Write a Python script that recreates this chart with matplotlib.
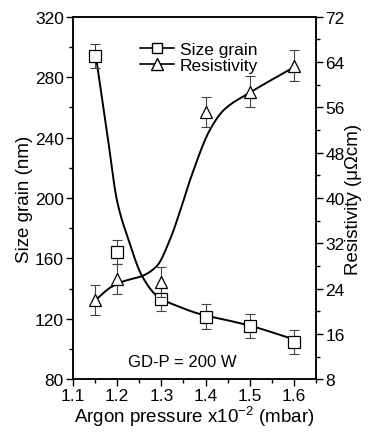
import numpy as np
import matplotlib
matplotlib.use("Agg")
import matplotlib.pyplot as plt
from matplotlib.ticker import MultipleLocator
from matplotlib.lines import Line2D

plt.rcParams['font.family'] = ['Liberation Sans', 'DejaVu Sans']

# Data points
pressure = [1.15, 1.2, 1.3, 1.4, 1.5, 1.6]
size_grain = [294, 164, 133, 121.5, 115.5, 104.7]
size_err = [8, 8, 8, 8, 8, 8]
resistivity = [22.0, 25.7, 25.2, 55.2, 58.8, 63.4]
res_err = [2.7, 2.7, 2.7, 2.7, 2.7, 2.7]

# Fitted curves
size_curve_x = [1.152, 1.177, 1.2, 1.225, 1.257, 1.291, 1.343, 1.389, 1.45, 1.5, 1.593]
size_curve_y = [294, 244, 198, 173, 148, 135, 127.7, 123, 119, 115.5, 107]
res_curve_x = [1.153, 1.185, 1.215, 1.256, 1.29, 1.32, 1.345, 1.366, 1.411, 1.442, 1.502, 1.593]
res_curve_y = [22.1, 24.2, 25.3, 26.2, 28.0, 32.75, 38.3, 43.4, 52.2, 55.6, 58.7, 62.8]


def pchip(x, y, xn):
    x = np.asarray(x, float); y = np.asarray(y, float)
    h = np.diff(x); d = np.diff(y) / h
    n = len(x)
    m = np.zeros(n)
    for k in range(1, n - 1):
        if d[k - 1] * d[k] > 0:
            w1 = 2 * h[k] + h[k - 1]; w2 = h[k] + 2 * h[k - 1]
            m[k] = (w1 + w2) / (w1 / d[k - 1] + w2 / d[k])
    m[0] = d[0]; m[-1] = d[-1]
    idx = np.clip(np.searchsorted(x, xn) - 1, 0, n - 2)
    t = (xn - x[idx]) / h[idx]
    h00 = 2 * t**3 - 3 * t**2 + 1; h10 = t**3 - 2 * t**2 + t
    h01 = -2 * t**3 + 3 * t**2; h11 = t**3 - t**2
    return h00 * y[idx] + h10 * h[idx] * m[idx] + h01 * y[idx + 1] + h11 * h[idx] * m[idx + 1]


fig = plt.figure(figsize=(3.68, 4.35), dpi=100)
ax = fig.add_axes([0.198, 0.126, 0.661, 0.833])
ax2 = ax.twinx()

xs = np.linspace(size_curve_x[0], size_curve_x[-1], 400)
ax.plot(xs, pchip(size_curve_x, size_curve_y, xs), color='black', lw=1.4, zorder=3)
xr = np.linspace(res_curve_x[0], res_curve_x[-1], 400)
ax2.plot(xr, pchip(res_curve_x, res_curve_y, xr), color='black', lw=1.4, zorder=3)

ax.errorbar(pressure, size_grain, yerr=size_err, fmt='none', ecolor='#444444',
            elinewidth=0.8, capsize=3.5, capthick=0.8, zorder=4)
ax.plot(pressure, size_grain, ls='none', marker='s', ms=8, mfc='white', mec='black', mew=0.9, zorder=5)
ax2.errorbar(pressure, resistivity, yerr=res_err, fmt='none', ecolor='#444444',
             elinewidth=0.8, capsize=3.5, capthick=0.8, zorder=4)
ax2.plot(pressure, resistivity, ls='none', marker='^', ms=9, mfc='white', mec='black', mew=0.9, zorder=5)

ax.set_xlim(1.1, 1.65)
ax.set_ylim(80, 320)
ax2.set_ylim(8, 72)
ax.xaxis.set_minor_locator(MultipleLocator(0.05))
ax.yaxis.set_major_locator(MultipleLocator(40))
ax.yaxis.set_minor_locator(MultipleLocator(20))
ax2.yaxis.set_major_locator(MultipleLocator(8))
ax2.yaxis.set_minor_locator(MultipleLocator(4))
ax.set_xticks([1.1, 1.2, 1.3, 1.4, 1.5, 1.6])
ax.set_xticklabels(['1.1', '1.2', '1.3', '1.4', '1.5', '1.6'])

for a in (ax, ax2):
    a.tick_params(which='major', direction='out', length=5, width=1, labelsize=12.5, pad=1.5)
    a.tick_params(which='minor', direction='out', length=3, width=1)
    for s in a.spines.values():
        s.set_linewidth(1.1)

ax.set_xlabel('Argon pressure x10$^{\\mathregular{-2}}$ (mbar)', fontsize=13.5, labelpad=0)
ax.set_ylabel('Size grain (nm)', fontsize=13.5, labelpad=1)
ax2.set_ylabel('Resistivity (μΩcm)', fontsize=13.5, labelpad=0)

ax.text(1.347, 92, 'GD-P = 200 W', fontsize=12, ha='center', va='center')

h1 = Line2D([], [], color='black', lw=1.2, marker='s', ms=7, mfc='white', mec='black')
h2 = Line2D([], [], color='black', lw=1.2, marker='^', ms=8, mfc='white', mec='black')
ax.legend([h1, h2], ['Size grain', 'Resistivity'], loc='upper left', bbox_to_anchor=(0.225, 0.965),
          frameon=False, fontsize=12.5, handlelength=2.0, handletextpad=0.3, labelspacing=0.05,
          borderpad=0.2)

fig.savefig('out.png', dpi=100)
